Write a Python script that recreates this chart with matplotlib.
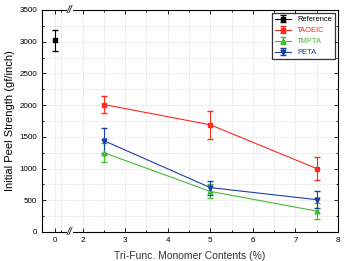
import matplotlib
matplotlib.use("Agg")
import matplotlib.pyplot as plt
from matplotlib.ticker import MultipleLocator

plt.rcParams['font.family'] = ['Liberation Sans', 'DejaVu Sans']

# data
ref_x_label = "0"
ref_y = [3020]
ref_err = [160]
conc = [2.5, 5, 7.5]
taoeic = [2010, 1690, 1000]
taoeic_err = [140, 220, 180]
tmpta = [1250, 640, 330]
tmpta_err = [150, 110, 130]
peta = [1440, 700, 510]
peta_err = [200, 110, 130]
yticks = [0, 500, 1000, 1500, 2000, 2500, 3000, 3500]
xticks = [2, 3, 4, 5, 6, 7, 8]

REF_POS = 1.35  # display position of the "0" category before the axis break

fig = plt.figure(figsize=(3.44, 2.61), dpi=100)
ax = fig.add_axes([42/344, 1-232/261, (338-42)/344, (232-10)/261])

ax.errorbar([REF_POS], ref_y, yerr=ref_err, color='black', marker='s', ms=3.5,
            lw=0.8, capsize=2, elinewidth=0.8, label='Reference')
ax.errorbar(conc, taoeic, yerr=taoeic_err, color='#ff2a1a', marker='s', ms=3.5,
            lw=0.8, capsize=2, elinewidth=0.8, label='TAOEIC')
ax.errorbar(conc, tmpta, yerr=tmpta_err, color='#44bb33', marker='^', ms=3.5,
            lw=0.8, capsize=2, elinewidth=0.8, label='TMPTA')
ax.errorbar(conc, peta, yerr=peta_err, color='#1a3fa8', marker='v', ms=3.5,
            lw=0.8, capsize=2, elinewidth=0.8, label='PETA')

ax.set_xlim(1.047, 8)
ax.set_ylim(0, 3500)
ax.set_xticks([REF_POS] + xticks)
ax.set_xticklabels([ref_x_label] + [str(t) for t in xticks])
ax.set_yticks(yticks)
ax.set_yticklabels([str(t) for t in yticks])
ax.xaxis.set_minor_locator(MultipleLocator(0.5))
ax.yaxis.set_minor_locator(MultipleLocator(250))
ax.tick_params(which='both', direction='in', top=True, right=True, labelsize=5.8, width=0.6)
ax.tick_params(which='major', length=3)
ax.tick_params(which='minor', length=1.5)
ax.grid(True, which='both', color='#c8c8c8', ls=':', lw=0.5)
for s in ax.spines.values():
    s.set_linewidth(0.8)

# axis break marks
for yy in (0, 1):
    ax.text(1.7, yy * 3500, '//', ha='center', va='center', fontsize=7.5,
            fontstyle='italic', transform=ax.transData, clip_on=False,
            bbox=dict(fc='white', ec='none', pad=0.3))

ax.set_xlabel('Tri-Func. Monomer Contents (%)', fontsize=7.5, labelpad=5, color='#333333')
ax.set_ylabel('Initial Peel Strength (gf/inch)', fontsize=8, labelpad=3)

leg = ax.legend(loc='upper right', fontsize=5.4, frameon=True, fancybox=False,
                edgecolor='black', handlelength=2.2, borderpad=0.4, labelspacing=0.5,
                borderaxespad=0.4)
leg.get_frame().set_linewidth(0.9)
for t, c in zip(leg.get_texts(), ['black', '#ff2a1a', '#44bb33', '#1a3fa8']):
    t.set_color(c)

fig.savefig('out.png', dpi=100)
